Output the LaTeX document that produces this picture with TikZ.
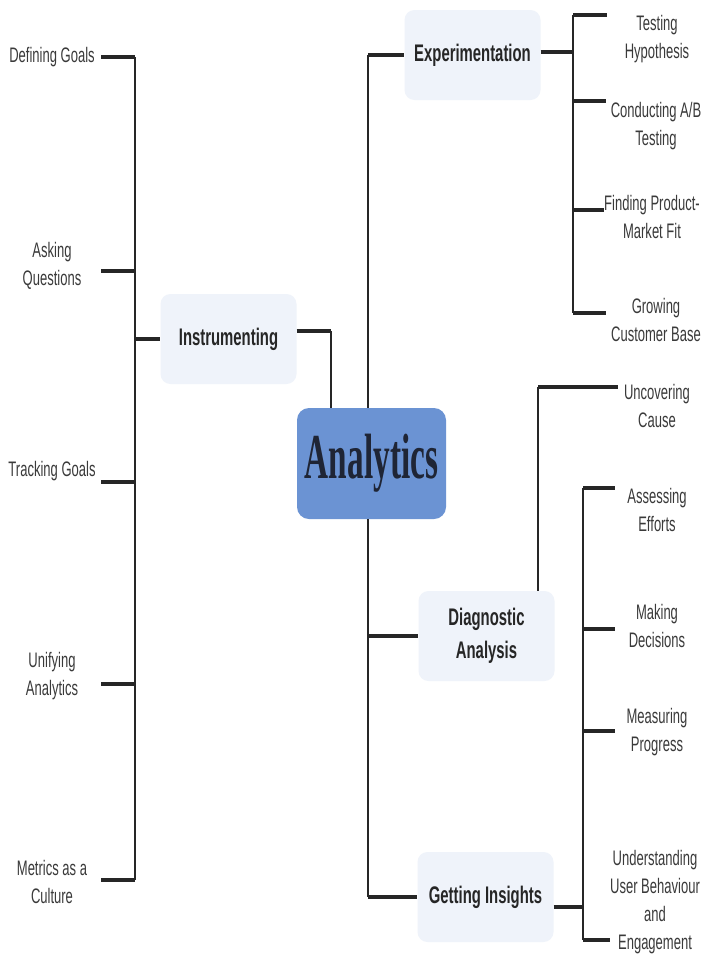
\documentclass[tikz,border=0pt]{standalone}
\usepackage{fontspec}
\setmainfont[FakeStretch=0.62]{Liberation Sans}
\newfontfamily\rootfont[FakeStretch=0.52]{Liberation Serif}
\definecolor{boxfill}{HTML}{EFF3FA}
\definecolor{rootfill}{HTML}{6B93D3}
\definecolor{linecol}{HTML}{262626}
\definecolor{leafcol}{HTML}{3A3A3A}
\definecolor{rootcol}{HTML}{1F2535}
\begin{document}
\begin{tikzpicture}[x=1pt,y=-1pt,
  leaf/.style={align=center,text=leafcol,inner sep=0pt,font=\fontsize{21}{28}\selectfont},
  topic/.style={rounded corners=10pt,fill=boxfill,minimum width=136pt,minimum height=90pt,
    align=center,text=linecol,font=\bfseries\fontsize{24}{33}\selectfont},
  root/.style={rounded corners=12pt,fill=rootfill,minimum width=149pt,minimum height=111pt,
    text=rootcol,font=\rootfont\bfseries\fontsize{64}{64}\selectfont},
  trunk/.style={draw=linecol,line width=2.8pt},
  tick/.style={draw=linecol,line width=4.8pt}]
\useasboundingbox[fill=white] (0,0) rectangle (702,956);

% centre and main branches
\node[root] (ana) at (371.5,463.5) {Analytics};
\node[topic] (ins) at (228.5,339) {Instrumenting};
\node[topic] (exp) at (472.5,55) {Experimentation};
\node[topic] (diag) at (486.5,636) {Diagnostic\\Analysis};
\node[topic] (gins) at (485.5,897) {Getting Insights};

% left leaves
\node[leaf,minimum width=98pt] (defg) at (52,57) {Defining Goals};
\node[leaf,minimum width=98pt] (askq) at (52,266) {Asking\\Questions};
\node[leaf,minimum width=98pt] (trkg) at (52,471) {Tracking Goals};
\node[leaf,minimum width=98pt] (unif) at (52,676) {Unifying\\Analytics};
\node[leaf,minimum width=98pt] (metr) at (52,882) {Metrics as a\\Culture};

% right leaves
\node[leaf,minimum width=100pt] (tsth) at (657,39) {Testing\\Hypothesis};
\node[leaf,minimum width=100pt] (cabt) at (656,126) {Conducting A/B\\Testing};
\node[leaf,minimum width=90pt] (fpmf) at (652,217) {Finding Product-\\Market Fit};
\node[leaf,minimum width=100pt] (gcb) at (656,320) {Growing\\Customer Base};
\node[leaf,minimum width=78pt] (unc) at (657,406) {Uncovering\\Cause};
\node[leaf,minimum width=84pt] (asef) at (657,510) {Assessing\\Efforts};
\node[leaf,minimum width=84pt] (mkd) at (657,626) {Making\\Decisions};
\node[leaf,minimum width=84pt] (msp) at (657,732) {Measuring\\Progress};
\node[leaf,minimum width=84pt] (uube) at (655,902) {Understanding\\User Behaviour\\and\\Engagement};

% junctions
\coordinate (l1) at (135,57);
\coordinate (l2) at (135,271);
\coordinate (l3) at (135,482);
\coordinate (l4) at (135,684);
\coordinate (l5) at (135,880);
\coordinate (rt) at (368,463);
\coordinate (ij) at (331,331);
\coordinate (e1) at (573,15);
\coordinate (e2) at (573,101);
\coordinate (e3) at (573,210);
\coordinate (e4) at (573,313);
\coordinate (uj) at (538,387);
\coordinate (g1) at (583,488);
\coordinate (g2) at (583,629);
\coordinate (g3) at (583,731);
\coordinate (g4) at (583,940);

% instrumenting side
\draw[trunk] (l1) -- (l5);
\draw[tick] (defg.east |- l1) -- (l1);
\draw[tick] (askq.east |- l2) -- (l2);
\draw[tick] (trkg.east |- l3) -- (l3);
\draw[tick] (unif.east |- l4) -- (l4);
\draw[tick] (metr.east |- l5) -- (l5);
\draw[tick] (l1 |- ins.west) -- (ins.west);
\draw[tick] (ins.east |- ij) -- (ij);
\draw[trunk] (ij) -- (ij |- ana.north);

% analytics trunk
\draw[trunk] (rt |- exp.west) -- (rt |- ana.north);
\draw[trunk] (rt |- ana.south) -- (rt |- gins.west);
\draw[tick] (rt |- exp.west) -- (exp.west);
\draw[tick] (rt |- diag.west) -- (diag.west);
\draw[tick] (rt |- gins.west) -- (gins.west);

% experimentation
\draw[tick] (exp.east |- 0,52) -- (e1 |- 0,52);
\draw[trunk] (e1) -- (e4);
\draw[tick] (e1) -- (e1 -| tsth.west);
\draw[tick] (e2) -- (e2 -| cabt.west);
\draw[tick] (e3) -- (e3 -| fpmf.west);
\draw[tick] (e4) -- (e4 -| gcb.west);

% diagnostic analysis
\draw[trunk] (uj |- diag.north) -- (uj);
\draw[tick] (uj) -- (uj -| unc.west);

% getting insights
\draw[tick] (gins.east |- 0,907) -- (g1 |- 0,907);
\draw[trunk] (g1) -- (g4);
\draw[tick] (g1) -- (g1 -| asef.west);
\draw[tick] (g2) -- (g2 -| mkd.west);
\draw[tick] (g3) -- (g3 -| msp.west);
\draw[tick] (g4) -- (g4 -| uube.west);
\end{tikzpicture}
\end{document}
